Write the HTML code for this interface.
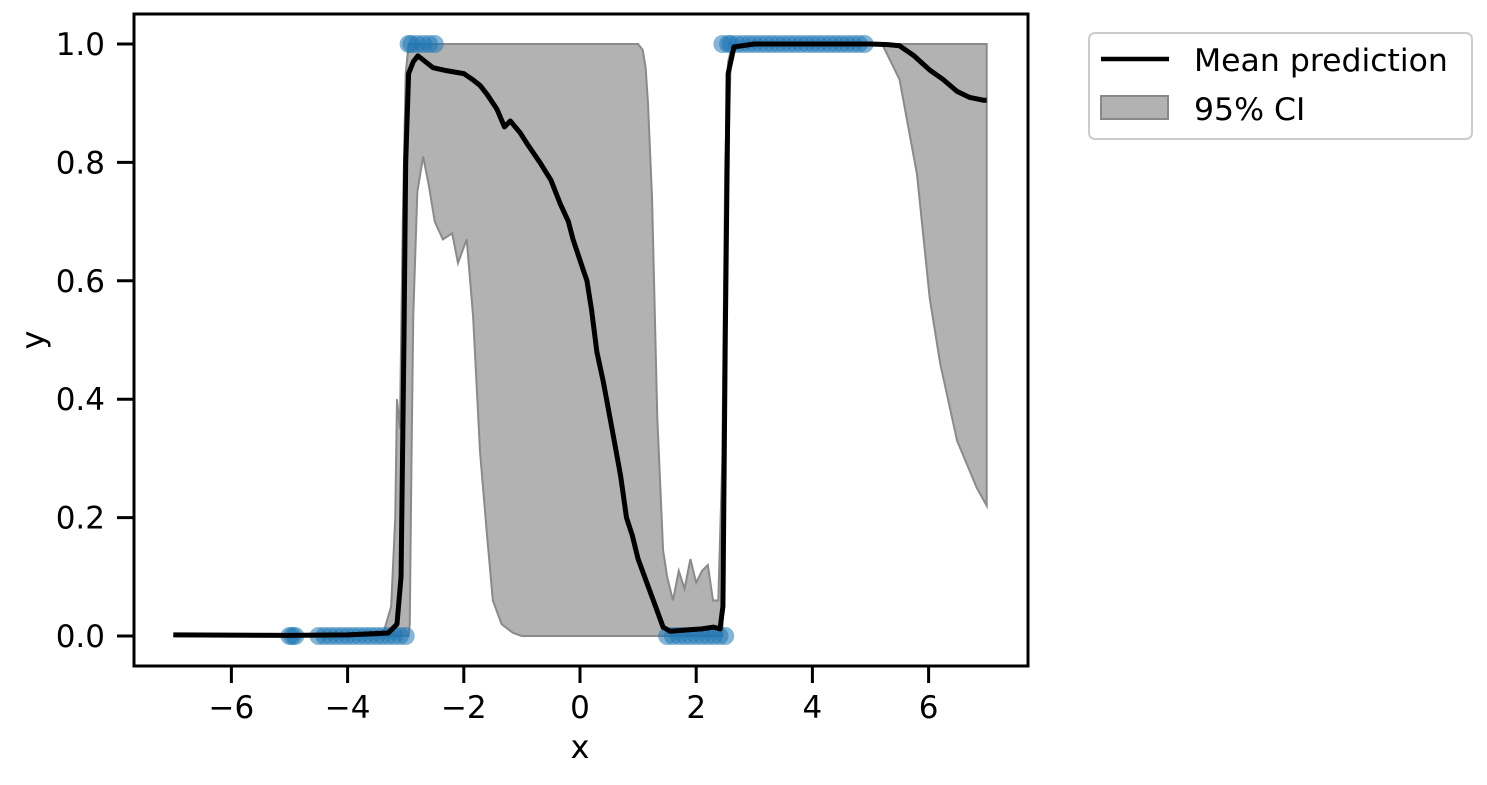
<!DOCTYPE html>
<html><head><meta charset="utf-8"><style>
body{margin:0;background:#fff;width:1487px;height:781px;overflow:hidden;font-family:"DejaVu Sans","Liberation Sans",sans-serif}
svg text{font-family:"DejaVu Sans","Liberation Sans",sans-serif}
</style></head><body>
<svg id="chart" width="1487" height="781" xmlns="http://www.w3.org/2000/svg"></svg>
<script>
const meanX=[-7,-5,-4,-3.3,-3.15,-3.08,-3.03,-3.0,-2.95,-2.87,-2.79,-2.53,-2.3,-2.0,-1.85,-1.72,-1.6,-1.43,-1.3,-1.2,-1.03,-0.9,-0.69,-0.5,-0.34,-0.2,-0.12,0.05,0.12,0.2,0.29,0.4,0.57,0.7,0.8,0.9,1.0,1.15,1.3,1.43,1.55,1.8,2.1,2.3,2.41,2.46,2.5,2.55,2.65,3,4,5,5.3,5.5,5.75,6.02,6.25,6.49,6.7,6.94,7];
const meanY=[0.002,0.001,0.002,0.005,0.02,0.1,0.5,0.8,0.95,0.97,0.98,0.96,0.955,0.95,0.94,0.93,0.915,0.89,0.86,0.87,0.85,0.83,0.8,0.77,0.73,0.7,0.67,0.62,0.6,0.55,0.48,0.43,0.34,0.27,0.2,0.17,0.13,0.09,0.05,0.015,0.008,0.01,0.012,0.015,0.012,0.05,0.5,0.95,0.995,1,1,1,0.999,0.997,0.98,0.956,0.94,0.92,0.91,0.905,0.905];
const upX=[-7,-3.4,-3.25,-3.18,-3.15,-3.1,-3.05,-3.0,-2.95,1.0,1.08,1.13,1.17,1.24,1.33,1.43,1.5,1.6,1.7,1.8,1.9,2.0,2.1,2.2,2.29,2.38,2.45,2.5,2.55,2.62,7];
const upY=[0,0,0.05,0.2,0.4,0.35,0.7,0.95,1,1,0.99,0.96,0.9,0.74,0.37,0.145,0.1,0.06,0.11,0.08,0.13,0.09,0.11,0.12,0.06,0.06,0.3,0.8,0.97,1,1];
const loX=[-7,-2.95,-2.93,-2.9,-2.87,-2.8,-2.7,-2.6,-2.5,-2.36,-2.2,-2.1,-1.95,-1.84,-1.72,-1.6,-1.5,-1.35,-1.15,-1.0,2.45,2.5,2.55,2.6,5.2,5.5,5.8,6.02,6.2,6.49,6.83,7];
const loY=[0,0,0.02,0.3,0.54,0.75,0.81,0.76,0.7,0.67,0.68,0.63,0.67,0.54,0.31,0.17,0.06,0.02,0.005,0,0,0.3,0.8,1,1,0.94,0.78,0.57,0.46,0.33,0.25,0.22];
const ptsX1=[-5.0,-4.95,-4.9,-4.5,-4.4,-4.3,-4.2,-4.1,-4.0,-3.9,-3.8,-3.7,-3.6,-3.5,-3.4,-3.3,-3.2,-3.1,-3.0,1.5,1.6,1.7,1.8,1.9,2.0,2.1,2.2,2.3,2.4,2.5];
const ptsY1=ptsX1.map(()=>0);
const ptsX2=[-2.95,-2.9,-2.8,-2.7,-2.6,-2.5,2.45,2.55,2.6,2.7,2.8,2.9,3.0,3.1,3.2,3.3,3.4,3.5,3.6,3.7,3.8,3.9,4.0,4.1,4.2,4.3,4.4,4.5,4.6,4.7,4.8,4.9];
const ptsY2=ptsX2.map(()=>1);
const xTicks=[-6,-4,-2,0,2,4,6];
const yTicks=[0.0,0.2,0.4,0.6,0.8,1.0];
const X=v=>580+v*58.1, Y=v=>636-v*592;
const svg=document.getElementById('chart');const NS='http://www.w3.org/2000/svg';
function mk(t,a,p){const e=document.createElementNS(NS,t);for(const k in a)e.setAttribute(k,a[k]);(p||svg).appendChild(e);return e;}
let d='M'+upX.map((x,i)=>X(x)+','+Y(upY[i])).join('L');
for(let i=loX.length-1;i>=0;i--)d+='L'+X(loX[i])+','+Y(loY[i]);
const band=mk('path',{d:d+'Z',fill:'#b2b2b2',stroke:'#8a8a8a','stroke-width':2});


const g=mk('g',{fill:'#1f77b4','fill-opacity':0.55});


ptsX1.concat(ptsX2).forEach((x,i)=>{const y=i<ptsX1.length?ptsY1[i]:ptsY2[i-ptsX1.length];const c=mk('circle',{cx:X(x),cy:Y(y),r:9},g);

});
const ln=mk('path',{d:'M'+meanX.map((x,i)=>X(x)+','+Y(meanY[i])).join('L'),fill:'none',stroke:'#000','stroke-width':5,'stroke-linejoin':'round'});


const fr=mk('rect',{x:134,y:14,width:894,height:652,fill:'none',stroke:'#000','stroke-width':3});


xTicks.forEach(v=>{mk('line',{x1:X(v),x2:X(v),y1:666,y2:683,stroke:'#000','stroke-width':3});
const t=mk('text',{x:X(v),y:718,'font-size':31,'text-anchor':'middle'});t.textContent=(v<0?'\u2212'+(-v):v);

});
yTicks.forEach(v=>{mk('line',{x1:117,x2:134,y1:Y(v),y2:Y(v),stroke:'#000','stroke-width':3});
const t=mk('text',{x:105,y:Y(v)+11,'font-size':31,'text-anchor':'end'});t.textContent=v.toFixed(1);

});
const xt=mk('text',{x:580,y:758,'font-size':32,'text-anchor':'middle'});xt.textContent='x';


const yt=mk('text',{x:44,y:340,'font-size':32,'text-anchor':'middle',transform:'rotate(-90 44 340)'});yt.textContent='y';


const lg=mk('g',{});


mk('rect',{x:1089,y:33,width:383,height:106,rx:6,fill:'#fff',stroke:'#ccc','stroke-width':2},lg);
mk('line',{x1:1101,x2:1169,y1:59,y2:59,stroke:'#000','stroke-width':4.5},lg);
mk('rect',{x:1101,y:96,width:67,height:23,fill:'#b2b2b2',stroke:'#888','stroke-width':2},lg);
const l1=mk('text',{x:1194,y:71,'font-size':31.5},lg);l1.textContent='Mean prediction';


const l2=mk('text',{x:1194,y:120,'font-size':31.5},lg);l2.textContent='95% CI';


</script>
</body></html>
